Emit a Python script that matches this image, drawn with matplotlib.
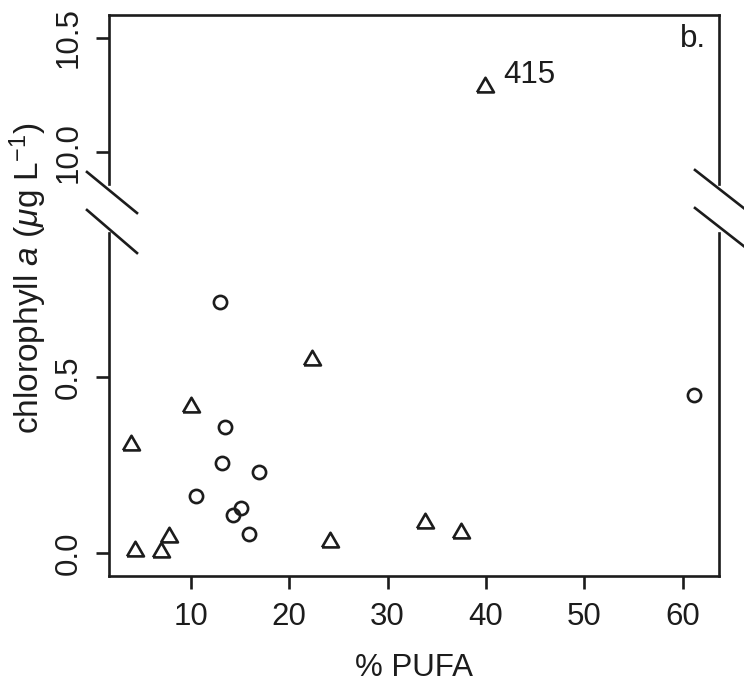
import matplotlib
matplotlib.use("Agg")
import matplotlib.pyplot as plt
from matplotlib.lines import Line2D

plt.rcParams['font.family'] = ['Liberation Sans', 'DejaVu Sans']
plt.rcParams['mathtext.fontset'] = 'custom'
plt.rcParams['mathtext.rm'] = 'Liberation Sans'
plt.rcParams['mathtext.it'] = 'Liberation Sans:italic'

# triangles (one outlier above the break, labelled 415)
tri_x = [3.9, 4.3, 7.0, 7.8, 10.0, 22.3, 24.1, 33.8, 37.5]
tri_y = [0.307, 0.007, 0.004, 0.045, 0.416, 0.548, 0.032, 0.086, 0.056]
tri_hi_x = [39.9]
tri_hi_y = [10.284]
tri_hi_label = "415"

# circles
circ_x = [12.95, 13.5, 13.2, 16.95, 10.5, 14.25, 15.05, 15.95, 61.2]
circ_y = [0.713, 0.357, 0.256, 0.231, 0.162, 0.108, 0.127, 0.054, 0.449]

x_ticks = [10, 20, 30, 40, 50, 60]
y_ticks_lo = [0.0, 0.5]
y_ticks_hi = [10.0, 10.5]

ink = '#1c1c1c'
fs = 22.5
lw = 1.9
tri = [(-1, -0.58), (1, -0.58), (0, 1.15), (-1, -0.58)]

fig = plt.figure(figsize=(7.44, 6.85), dpi=100)
W, H = 744, 685
left, right = 109 / W, 719 / W
ax_hi = fig.add_axes([left, (H - 184) / H, right - left, 169 / H])
ax_lo = fig.add_axes([left, (H - 576) / H, right - left, 343 / H])

for ax in (ax_hi, ax_lo):
    ax.set_xlim(1.67, 63.7)
    for s in ax.spines.values():
        s.set_linewidth(lw)
        s.set_color(ink)
    ax.tick_params(direction='out', length=9.5, width=lw, color=ink,
                   labelsize=fs, labelcolor=ink, pad=9)

ax_hi.set_ylim(9.86, 10.601)
ax_lo.set_ylim(-0.065, 0.909)

ax_hi.spines['bottom'].set_visible(False)
ax_lo.spines['top'].set_visible(False)
ax_hi.set_xticks([])
ax_lo.set_xticks(x_ticks)
ax_lo.set_xticklabels([str(t) for t in x_ticks])
ax_hi.set_yticks(y_ticks_hi)
ax_hi.set_yticklabels(['10.0', '10.5'], rotation=90, va='center')
ax_lo.set_yticks(y_ticks_lo)
ax_lo.set_yticklabels(['0.0', '0.5'], rotation=90, va='center')

mk = dict(linestyle='none', markerfacecolor='none', markeredgecolor=ink,
          markeredgewidth=1.9)
ax_lo.plot(tri_x, tri_y, marker=tri, markersize=14, **mk)
ax_lo.plot(circ_x, circ_y, marker='o', markersize=9.5, **mk)
ax_hi.plot(tri_hi_x, tri_hi_y, marker=tri, markersize=14, **mk)

ax_hi.annotate(tri_hi_label, (tri_hi_x[0], tri_hi_y[0]), xytext=(13, 3),
               textcoords='offset points', fontsize=fs, color=ink,
               ha='left', va='baseline')
ax_hi.text(0.979, 0.81, 'b.', transform=ax_hi.transAxes, fontsize=fs,
           color=ink, ha='right', va='baseline')

ax_lo.set_xlabel('% PUFA', fontsize=fs, color=ink, labelpad=15)
fig.text(28 / W, 1 - 278 / H,
         r'chlorophyll $\mathit{a}$ ($\mu$g L$^{\mathregular{-1}}$)',
         rotation=90, fontsize=fs + 1.5, color=ink, ha='center', va='center')

# break marks on both sides
for (x0, y0, x1, y1) in [(87, 172, 137, 213), (87, 210, 137, 253),
                         (695, 170, 750, 213), (695, 208, 750, 251)]:
    fig.add_artist(Line2D([x0 / W, x1 / W], [1 - y0 / H, 1 - y1 / H],
                          color=ink, linewidth=lw, transform=fig.transFigure))

fig.savefig('out.png', dpi=100, facecolor='white')
